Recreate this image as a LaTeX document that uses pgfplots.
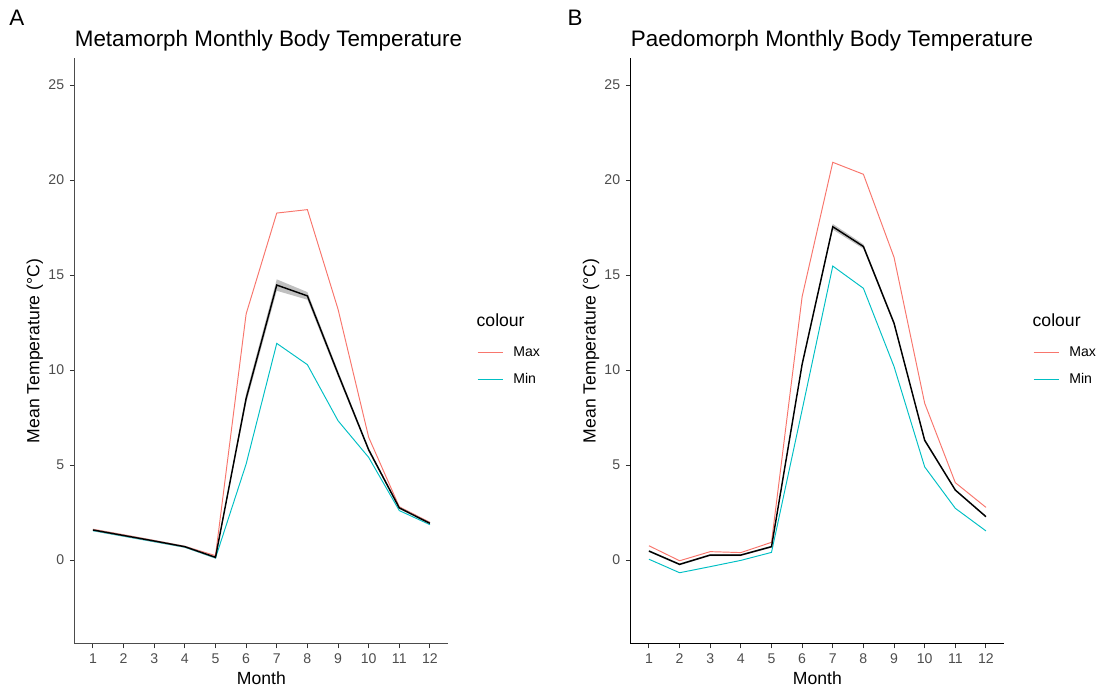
\documentclass[border=0pt]{standalone}
\usepackage{pgfplots}
\pgfplotsset{compat=1.18}
\usepackage{fontspec}
\setmainfont{Liberation Sans}
\definecolor{maxc}{HTML}{F8766D}
\definecolor{minc}{HTML}{00BFC4}
\definecolor{tickc}{HTML}{4D4D4D}
\definecolor{ribc}{HTML}{B0B0B0}

\pgfplotsset{
  panel/.style={
    scale only axis, width=233.6pt, height=365.75pt,
    anchor=south west, clip mode=individual,
    xmin=0.4, xmax=12.6, ymin=-4.4, ymax=26.4,
    axis x line*=bottom, axis y line*=left,
    axis line style={-, line width=0.8pt},
    xtick={1,2,...,12}, ytick={0,5,10,15,20,25},
    tick align=outside, major tick length=3pt,
    tick style={color=black!80, line width=0.6pt},
    ticklabel style={font=\fontsize{8.8}{10}\selectfont, text=tickc},
    /pgf/number format/assume math mode=true,
    xlabel={Month}, ylabel={Mean Temperature (°C)},
    label style={font=\fontsize{11}{13}\selectfont},
    xlabel style={at={(axis description cs:0.5,-0.0588)}, anchor=center},
    ylabel style={at={(axis description cs:-0.106,0.5)}, anchor=center},
    title style={at={(axis description cs:0,1.0045)}, anchor=base west, inner sep=0pt, font=\fontsize{14}{16}\selectfont},
    legend style={at={(axis description cs:1.0765,0.509)}, anchor=north west,
      draw=none, fill=none, inner sep=0pt, outer sep=0pt,
      font=\fontsize{8.8}{10}\selectfont, row sep=8.6pt,
      nodes={inner sep=0pt, text height=6.5pt, text depth=1.8pt}},
    legend image code/.code={\draw[##1, line width=0.9pt] (0pt,0pt) -- (15.6pt,0pt); \path (22pt,0pt);},
    legend cell align=left,
  }
}

\begin{document}
\begin{tikzpicture}
\path[use as bounding box] (0,0) rectangle (688.125pt,430pt);

\node[anchor=center, font=\fontsize{14}{16}\selectfont] at (10.6pt,418.75pt) {A};
\node[anchor=center, font=\fontsize{14}{16}\selectfont] at (359.4pt,418.75pt) {B};

% ---------------- Panel A ----------------
\begin{axis}[panel, at={(46.6pt,27.75pt)},
  axis line style={-, line width=0.9pt, color=black!70},
  title={Metamorph Monthly Body Temperature}]
\addplot[maxc, line width=0.6pt] coordinates {
 (1,1.62) (2,1.33) (3,1.03) (4,0.72) (5,0.23) (6,12.95) (7,18.26) (8,18.44) (9,13.2) (10,6.46) (11,2.8) (12,1.98)};
\addlegendentry{Max}
\addplot[minc, line width=0.6pt] coordinates {
 (1,1.54) (2,1.25) (3,0.96) (4,0.67) (5,0.10) (6,5.05) (7,11.4) (8,10.28) (9,7.33) (10,5.4) (11,2.6) (12,1.86)};
\addlegendentry{Min}
\addplot[draw=none, fill=ribc, fill opacity=0.8, forget plot] coordinates {
 (1,1.63) (2,1.34) (3,1.05) (4,0.75) (5,0.19) (6,8.75) (7,14.77) (8,14.10) (9,9.95) (10,5.9) (11,2.80) (12,1.98)
 (12,1.88) (11,2.68) (10,5.7) (9,9.65) (8,13.7) (7,14.17) (6,8.25) (5,0.09) (4,0.65) (3,0.95) (2,1.24) (1,1.53)};
\addplot[black, line width=0.9pt, forget plot] coordinates {
 (1,1.58) (2,1.29) (3,1.0) (4,0.7) (5,0.14) (6,8.5) (7,14.47) (8,13.9) (9,9.8) (10,5.8) (11,2.74) (12,1.93)};
\node[anchor=west, inner sep=0pt, font=\fontsize{11}{13}\selectfont] at (axis description cs:1.075,0.552) {colour};
\end{axis}

% ---------------- Panel B ----------------
\begin{axis}[panel, at={(394.1pt,27.75pt)},
  axis line style={-, line width=0.8pt, color=black},
  title={Paedomorph Monthly Body Temperature}]
\addplot[maxc, line width=0.6pt] coordinates {
 (1,0.75) (2,-0.04) (3,0.44) (4,0.39) (5,0.93) (6,13.86) (7,20.93) (8,20.3) (9,15.93) (10,8.25) (11,4.07) (12,2.77)};
\addlegendentry{Max}
\addplot[minc, line width=0.6pt] coordinates {
 (1,0.04) (2,-0.67) (3,-0.35) (4,-0.02) (5,0.40) (6,7.9) (7,15.47) (8,14.3) (9,10.18) (10,4.9) (11,2.72) (12,1.53)};
\addlegendentry{Min}
\addplot[draw=none, fill=ribc, fill opacity=0.8, forget plot] coordinates {
 (1,0.52) (2,-0.18) (3,0.31) (4,0.31) (5,0.75) (6,10.4) (7,17.69) (8,16.62) (9,12.56) (10,6.38) (11,3.73) (12,2.33)
 (12,2.23) (11,3.63) (10,6.22) (9,12.36) (8,16.38) (7,17.39) (6,10.2) (5,0.65) (4,0.21) (3,0.21) (2,-0.28) (1,0.42)};
\addplot[black, line width=0.9pt, forget plot] coordinates {
 (1,0.47) (2,-0.23) (3,0.26) (4,0.26) (5,0.7) (6,10.3) (7,17.54) (8,16.5) (9,12.46) (10,6.3) (11,3.68) (12,2.28)};
\node[anchor=west, inner sep=0pt, font=\fontsize{11}{13}\selectfont] at (axis description cs:1.075,0.552) {colour};
\end{axis}
\end{tikzpicture}
\end{document}
